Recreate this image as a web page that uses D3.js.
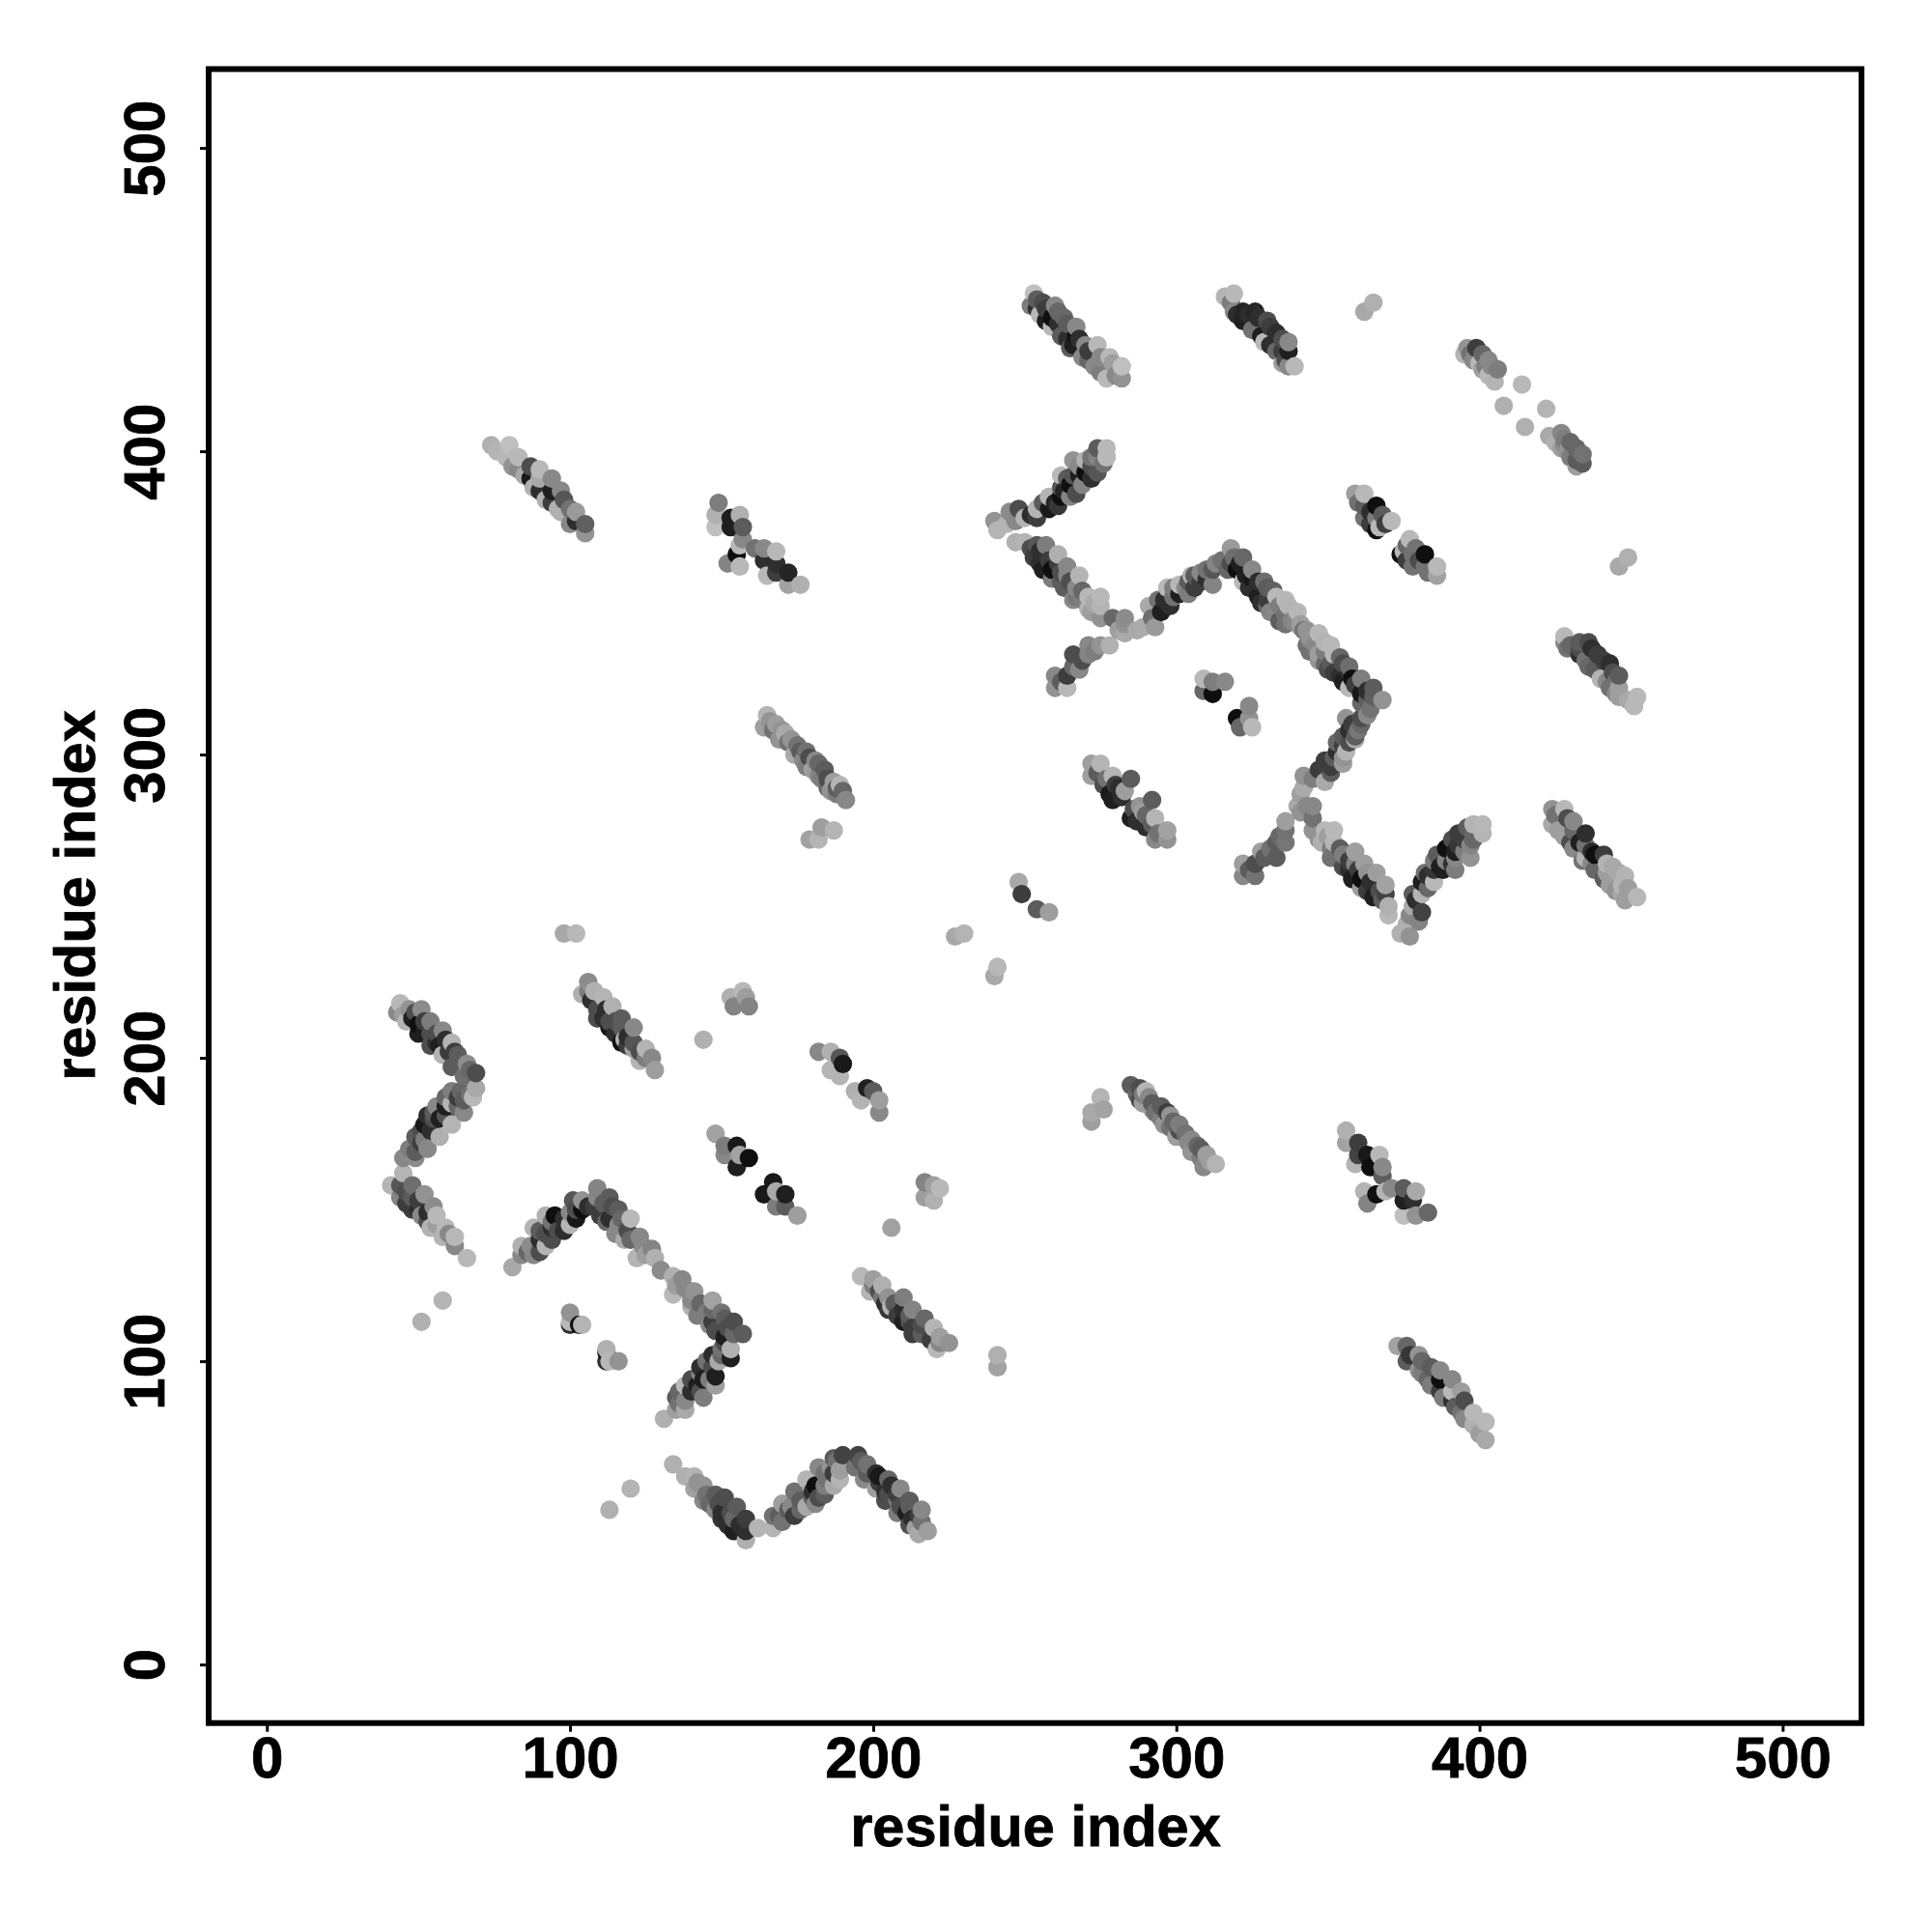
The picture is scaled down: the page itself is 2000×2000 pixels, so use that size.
<!DOCTYPE html>
<html><head><meta charset="utf-8"><style>html,body{margin:0;background:#fff}</style>
<script src="https://cdn.jsdelivr.net/npm/d3@7"></script></head><body><svg id="c" width="2000" height="2000"></svg>
<script>
// each contact: [i, j, gray% at (i,j), gray% at the mirrored contact (j,i)]
const underC=[[166,311,55,60],[167,308,40,45],[170,308,55,30],[172,304,40,50],[176,301,30,25],[179,299,25,35],[178,296,45,55],[182,297,35,20],[182,293,50,40],[185,292,25,30],[188,289,30,45],[185,289,35,60],[188,287,45,35]];
const underD=[[254,450,30,60],[254,447,15,65],[257,447,20,70],[257,443,10,60],[261,446,35,65],[261,442,15,60],[264,442,30,70],[264,437,15,50],[266,435,10,70],[268,437,15,15],[271,433,20,10],[271,430,35,25],[275,431,50,35],[275,426,45,60],[279,429,60,25],[280,425,50,40]];
const underE=[[318,449,45,65],[320,445,15,50],[324,445,15,40],[324,442,10,50],[327,444,15,25],[328,438,10,30],[331,441,20,20],[331,435,15,40],[335,437,25,15],[335,433,20,25],[336,430,25,35]];
const underF=[[397,432,40,30],[401,432,35,35],[402,428,45,50],[404,428,50,45]];
const underG=[[360,383,40,40],[364,380,15,25],[364,376,20,20],[368,379,30,40],[369,376,20,35]];
const underH=[[262,324,30,30],[266,329,35,30],[269,331,25,40],[273,334,45,35],[281,341,60,55],[287,341,65,60],[295,347,10,20],[296,351,15,20],[299,352,40,30],[299,355,45,55],[303,355,50,20],[306,355,20,30],[306,359,30,30],[310,358,15,20],[310,361,40,35],[315,364,40,40]];
const underI=[[318,363,25,30],[321,363,10,15],[323,359,10,20],[324,355,15,10],[327,357,15,15],[327,352,10,20],[330,355,30,25],[330,351,20,30],[334,349,45,45],[336,346,40,50],[339,344,50,55],[337,349,70,70],[330,349,35,35],[333,347,50,60],[341,343,60,55],[336,343,40,40]];
const underJ=[[252,379,15,15],[256,383,30,35],[260,383,12,15],[263,387,12,10],[264,391,30,15],[267,386,25,30],[268,392,10,10],[268,395,50,45],[272,391,15,25],[272,395,25,20],[272,398,40,35],[276,396,40,30]];
const underK=[[252,368,25,30],[255,367,15,25],[255,363,15,20],[258,364,20,15],[258,360,10,10],[261,363,20,55],[262,360,25,20],[265,357,25,20],[262,357,30,15],[269,354,35,30],[266,351,50,40],[273,350,65,60],[269,351,45,45],[272,347,60,55]];
const underL=[[274,294,30,40],[276,290,25,15],[280,290,20,35],[282,286,15,25]];
const underP=[[45,214,60,60],[48,213,10,15],[49,215,25,20],[52,212,20,30],[52,209,10,25],[56,208,25,20],[56,205,15,25],[59,206,15,15],[60,202,20,20],[63,201,30,15],[63,198,30,30],[67,196,35,30]];
const underQ=[[67,188,40,40],[63,187,20,20],[63,184,35,40],[59,187,35,65],[59,184,10,45],[57,180,10,15],[55,182,30,25],[53,181,15,50],[51,176,25,35],[54,176,15,30],[51,172,20,30],[47,170,45,40],[52,173,45,50]];
const underR=[[46,156,25,15],[46,152,20,15],[50,153,20,25],[50,150,15,15],[53,149,15,25],[53,146,25,35],[56,145,60,40],[60,142,50,55]];
const underS=[[86,136,35,40],[90,136,25,35],[90,140,15,15],[90,143,30,25],[94,140,25,25],[94,144,15,10],[94,146,40,45],[98,143,15,15],[98,147,15,25],[102,147,8,15],[102,150,25,35],[106,151,15,25]];
const underT=[[111,152,30,25],[110,148,20,25],[114,151,25,30],[113,147,15,20],[117,147,35,35],[115,142,50,45],[119,143,25,35],[120,140,35,50],[124,138,50,50],[125,135,60,60]];
const underW=[[106,222,45,50],[107,219,15,20],[112,216,15,25],[111,213,15,20],[115,212,25,30],[115,208,15,20],[119,207,15,30],[119,204,20,15],[123,202,25,25],[125,200,45,45]];
const strandA=[[74,402,68,65],[80,402,75,72],[79,398,72,68],[83,398,72,72],[76,400,70,60],[81,395,55,50],[83,394,50,40],[87,395,25,25],[87,391,8,15],[85,392,65,30],[90,394,72,60],[90,391,65,72],[88,388,68,45],[90,387,15,20],[94,391,50,50],[94,387,10,5],[92,384,68,45],[94,383,20,35],[97,387,50,50],[96,381,68,45],[98,384,28,30],[100,381,40,35],[97,380,68,55],[100,376,50,30],[102,380,58,55],[102,377,15,18],[105,376,32,35],[105,373,55,62]];
const strandB=[[148,375,75,75],[148,379,68,55],[149,383,45,35],[153,375,10,10],[153,378,10,15],[152,363,48,48],[155,366,5,5],[156,362,72,70],[156,369,72,70],[156,379,68,65],[157,375,30,30],[157,371,50,50],[161,368,40,30],[164,364,15,5],[164,368,50,50],[165,359,72,70],[168,360,20,22],[168,363,15,8],[168,367,72,72],[172,360,12,20],[172,356,62,62],[176,356,68,68]];
const strandC=[[165,313,70,70],[164,309,60,50],[168,310,60,60],[171,307,65,35],[169,305,55,55],[173,305,55,50],[175,303,40,40],[174,300,65,60],[178,301,40,45],[177,298,50,40],[181,298,50,55],[180,295,60,45],[184,295,30,30],[183,292,45,60],[187,291,60,50],[186,288,55,25],[190,288,35,25],[191,285,50,30],[189,290,70,70]];
const strandCx=[[179,272,62,60],[182,272,70,65],[183,276,60,62],[187,275,70,70]];
const strandD=[[252,448,45,60],[255,445,72,55],[259,441,72,30],[259,444,5,60],[256,449,25,60],[253,452,75,72],[260,448,50,70],[263,444,35,65],[262,438,30,35],[265,434,30,40],[267,438,5,5],[267,441,50,20],[269,431,50,50],[270,435,50,40],[273,428,50,60],[274,435,72,15],[277,424,72,65],[278,431,72,50],[282,424,55,55],[282,428,75,72]];
const strandE=[[316,451,70,72],[319,446,50,60],[319,452,72,72],[322,443,10,40],[322,446,12,60],[326,446,12,30],[325,440,40,70],[330,443,25,15],[329,436,72,35],[333,439,15,20],[333,433,35,15],[337,436,50,25],[337,433,10,30],[335,429,60,40],[337,428,50,50],[339,428,72,72]];
const strandEx=[[362,446,65,65],[365,449,68,68]];
const strandF=[[395,432,70,60],[396,434,55,30],[399,434,20,40],[398,430,50,45],[400,429,72,55],[403,430,50,35],[401,427,60,60],[406,427,45,50],[403,425,72,68],[405,423,70,65],[414,422,72,70],[408,415,68,68]];
const strandG=[[359,386,60,62],[362,386,72,72],[362,382,30,40],[362,378,40,40],[366,382,5,5],[366,378,45,40],[366,374,5,5],[367,375,72,72],[371,377,72,72]];
const armH=[[260,326,50,40],[260,322,55,50],[264,326,20,25],[264,322,72,60],[266,333,25,30],[268,328,50,60],[271,333,48,30],[271,336,50,42],[275,336,55,40],[278,336,68,60],[279,345,35,40],[283,340,65,65],[283,343,55,50],[289,342,66,66],[293,342,58,55],[292,345,38,45],[291,349,65,65],[294,351,40,30],[298,349,15,20],[297,355,72,60],[301,353,10,15],[301,356,72,70],[304,353,45,35],[304,357,30,25],[305,359,68,65],[308,357,20,15],[308,360,50,42],[312,356,48,55],[312,361,28,25],[313,363,48,50],[318,368,58,55]];
const armI=[[317,361,35,35],[319,365,38,32],[322,365,35,30],[320,361,5,8],[325,361,50,45],[322,357,72,72],[325,358,8,5],[329,357,38,38],[326,354,15,15],[332,354,32,35],[328,350,15,25],[333,352,72,72],[336,351,72,72],[331,347,48,55],[334,344,30,40],[340,347,72,72],[338,344,48,50],[342,341,40,55]];
const armJ=[[241,374,70,68],[240,377,55,55],[245,380,52,48],[248,381,25,22],[247,377,50,50],[244,376,70,68],[247,370,68,72],[254,378,20,30],[250,378,70,65],[258,381,8,10],[254,381,70,70],[261,382,18,40],[262,392,72,45],[258,385,70,72],[262,385,5,18],[265,385,48,45],[262,388,28,10],[265,389,5,48],[269,389,48,5],[266,392,28,50],[266,397,55,55],[270,393,5,18],[270,397,68,48],[274,393,28,20],[274,398,48,35],[274,401,30,70],[277,401,72,72],[277,398,72,70]];
const armK=[[250,370,70,68],[254,369,28,22],[253,365,20,10],[257,369,45,62],[261,366,68,60],[256,361,10,60],[259,361,5,5],[259,358,45,10],[264,362,50,60],[264,359,48,48],[268,359,70,60],[263,355,30,25],[267,355,50,45],[267,352,42,40],[271,352,72,70],[275,352,72,72],[271,348,70,68],[275,349,70,72],[275,345,55,55],[283,345,52,50]];
const strandL=[[272,297,60,55],[275,297,70,62],[272,293,60,50],[277,292,40,30],[279,293,70,70],[278,287,8,15],[281,289,15,60],[279,285,10,10],[285,292,30,30],[283,288,60,55]];
const smallM=[[309,325,72,72],[309,321,35,35],[312,324,45,55],[316,324,50,50],[312,320,5,5]];
const smallN=[[248,258,65,60],[249,254,20,30]];
const smallO=[[227,240,65,65],[230,241,70,72]];
const chevP=[[44,218,72,60],[43,215,50,65],[47,216,55,40],[51,216,52,50],[46,212,70,25],[50,211,5,10],[50,208,10,45],[54,212,45,30],[54,208,25,40],[58,209,50,50],[54,204,25,25],[57,204,10,15],[61,205,70,35],[62,202,20,8],[58,201,70,60],[61,197,30,50],[66,198,52,40],[65,194,38,40],[69,195,25,22]];
const chevQ=[[69,190,65,22],[68,187,72,30],[64,189,35,60],[65,186,30,55],[65,182,50,50],[61,189,45,70],[61,185,70,40],[56,184,50,30],[59,181,28,5],[61,178,70,70],[55,180,25,30],[52,178,8,65],[57,174,68,40],[49,174,30,20],[53,170,50,60],[49,169,30,30],[49,167,52,40],[45,167,50,70],[45,162,70,70]];
const chevR=[[41,158,70,68],[44,158,28,15],[48,158,38,20],[44,154,48,10],[48,154,30,35],[52,155,55,30],[48,150,20,18],[51,148,50,50],[55,151,52,25],[56,148,72,30],[54,144,70,50],[59,144,72,55],[58,141,70,62],[62,141,72,70],[62,138,50,68],[66,134,72,68]];
const chevRx=[[51,113,68,68],[58,120,70,70]];
const peakS=[[81,131,65,68],[84,135,50,60],[88,135,50,30],[84,138,68,65],[87,138,52,50],[88,144,70,45],[92,138,70,72],[92,142,25,10],[92,148,68,60],[96,143,25,50],[95,148,5,10],[100,145,70,40],[100,149,50,65],[101,153,28,10],[104,150,5,40],[104,153,55,68]];
const peakT=[[108,151,20,10],[109,157,48,30],[109,154,50,35],[113,154,30,25],[116,150,30,40],[112,146,35,50],[116,145,50,45],[120,147,72,62],[118,140,65,68],[123,141,50,55],[122,134,70,72],[127,137,48,50],[128,134,68,68],[130,130,48,52]];
const smallU=[[100,116,55,55],[100,112,15,15],[100,113,72,72],[103,112,5,5],[104,112,70,68]];
const pairV=[[98,241,65,62],[102,241,72,68]];
const strandW=[[106,225,52,55],[104,221,68,72],[108,222,68,60],[111,220,70,70],[109,216,25,30],[114,217,68,35],[109,213,25,20],[113,212,25,25],[117,213,30,48],[113,210,8,10],[117,210,30,15],[121,210,50,45],[117,205,5,18],[118,206,70,70],[121,205,28,55],[121,203,62,42],[125,203,70,68],[123,199,70,70],[127,200,50,60],[128,196,60,72]];
const blobX=[[153,220,68,68],[154,217,48,60],[157,222,72,72],[158,220,60,60],[159,217,48,48]];
const soloY=[[144,206,68,62]];
const strandZ=[[148,175,62,60],[151,171,45,30],[155,171,8,10],[151,168,50,45],[156,168,62,65],[155,164,10,8],[159,167,5,8]];
const blobAA=[[182,202,50,50],[186,202,68,60],[189,200,28,30],[186,196,70,70],[189,194,70,68],[190,198,8,10]];
const tickVals=[0,100,200,300,400,500];
const axisTitle="residue index";

const contacts=[underC,underD,underE,underF,underG,underH,underI,underJ,underK,underL,underP,underQ,underR,underS,underT,underW,strandA,strandB,strandC,strandCx,strandD,strandE,strandEx,strandF,strandG,armH,armI,armJ,armK,strandL,smallM,smallN,smallO,chevP,chevQ,chevR,chevRx,peakS,peakT,smallU,pairV,strandW,blobX,soloY,strandZ,blobAA].flat();

const svg=d3.select("#c");
const x=d3.scaleLinear().domain([-19.2,526]).range([216,1927]);
const y=d3.scaleLinear().domain([-19.3,526]).range([1783.7,71.5]);
const gray=d3.scaleLinear().domain([0,30,75,100]).range(["#000","#5c5c5c","#bfbfbf","#fff"]);
const pts=contacts.map(d=>({x:d[0],y:d[1],g:d[2]})).concat(contacts.map(d=>({x:d[1],y:d[0],g:d[3]})))
  .sort((a,b)=>d3.ascending(a.x,b.x)||d3.ascending(a.y,b.y));
svg.append("g").selectAll("circle").data(pts).join("circle")
  .attr("cx",d=>x(d.x)).attr("cy",d=>y(d.y)).attr("r",9.6).attr("fill",d=>gray(d.g));
svg.append("rect").attr("x",x.range()[0]).attr("y",y.range()[1])
  .attr("width",x.range()[1]-x.range()[0]).attr("height",y.range()[0]-y.range()[1])
  .attr("fill","none").attr("stroke","#000").attr("stroke-width",6);
const font="'Liberation Sans',Arial,sans-serif";
const gx=svg.append("g").attr("transform",`translate(0,${y.range()[0]})`).call(d3.axisBottom(x).tickValues(tickVals).tickSize(9).tickPadding(0).tickFormat(d3.format("d")));
const gy=svg.append("g").attr("transform",`translate(${x.range()[0]},0)`).call(d3.axisLeft(y).tickValues(tickVals).tickSize(9).tickPadding(0).tickFormat(d3.format("d")));
[gx,gy].forEach(g=>{g.select(".domain").remove();g.selectAll(".tick line").attr("stroke","#000").attr("stroke-width",3);
  g.selectAll(".tick text").attr("fill","#000").attr("stroke","#000").attr("stroke-width",0.8).attr("font-family",font).attr("font-weight","bold").attr("font-size",60).attr("dy",null);});
gx.selectAll(".tick text").attr("y",56).attr("text-anchor","middle");
gy.selectAll(".tick text").attr("x",null).attr("transform","translate(-46,0) rotate(-90)").attr("text-anchor","middle").attr("y",0);
svg.append("text").attr("x",1072).attr("y",1911).attr("text-anchor","middle").attr("font-family",font).attr("font-weight","bold").attr("font-size",59.5).attr("stroke","#000").attr("stroke-width",0.8).text(axisTitle);
svg.append("text").attr("transform","translate(98,927) rotate(-90)").attr("text-anchor","middle").attr("font-family",font).attr("font-weight","bold").attr("font-size",59.5).attr("stroke","#000").attr("stroke-width",0.8).text(axisTitle);
</script></body></html>
